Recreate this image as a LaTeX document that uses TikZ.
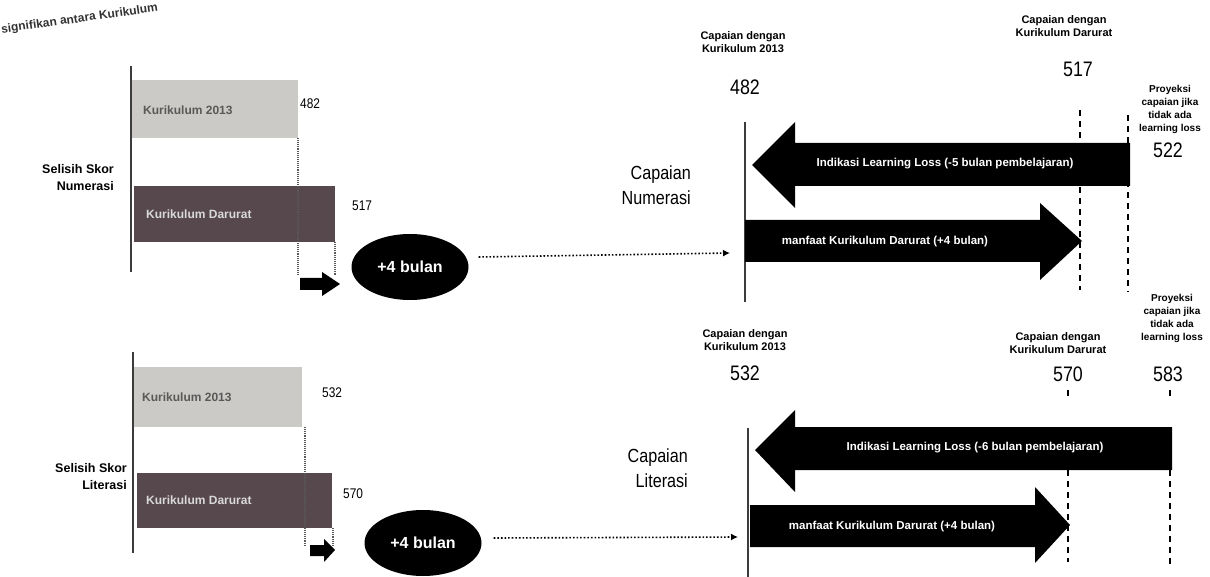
\documentclass[tikz,border=0pt]{standalone}
\usepackage{fontspec}
\setmainfont{Liberation Sans}
\newfontfamily\narrow[FakeStretch=0.85]{Liberation Sans}
\usetikzlibrary{shapes.geometric,arrows.meta}
\definecolor{lightbar}{RGB}{204,202,198}
\definecolor{darkbar}{RGB}{86,72,76}
\definecolor{axisgray}{RGB}{60,60,60}
\tikzset{
  smalllbl/.style={font=\bfseries\fontsize{11}{12.5}\selectfont, align=center, inner sep=0pt},
  prolbl/.style={font=\bfseries\fontsize{10}{13}\selectfont, align=center, inner sep=0pt},
  numlbl/.style={font=\narrow\fontsize{21}{22}\selectfont, inner sep=0pt},
  barnum/.style={font=\narrow\fontsize{14}{15}\selectfont, inner sep=0pt},
  sidelbl/.style={font=\bfseries\fontsize{12.5}{17}\selectfont, align=right, inner sep=0pt},
  caplbl/.style={font=\narrow\fontsize{19}{25}\selectfont, align=right, inner sep=0pt},
  barlbl/.style={font=\bfseries\fontsize{12}{13}\selectfont, inner sep=0pt},
  arrlbl/.style={font=\bfseries\fontsize{11.5}{13}\selectfont, text=white, inner sep=0pt},
  oval/.style={ellipse, fill=black, text=white, font=\bfseries\fontsize{16}{18}\selectfont, minimum width=117pt, minimum height=66pt, inner sep=0pt},
  dotconn/.style={dotted, line width=1.6pt, -{Latex[length=7pt,width=7pt]}},
  guide/.style={dash pattern=on 6pt off 5pt, line width=1.4pt},
  tick/.style={densely dotted, line width=1.1pt, black!65},
  axisline/.style={line width=1.5pt, axisgray}
}
\begin{document}
\begin{tikzpicture}[x=1pt,y=-1pt]
\useasboundingbox (0,0) rectangle (1210,577);
% heading fragment
\node[rotate=8, anchor=south west, font=\bfseries\fontsize{12}{13}\selectfont, text=black!80, inner sep=0pt] (head) at (2,36) {signifikan antara Kurikulum};

% ===== Left top panel =====
\fill[lightbar] (131,80) rectangle (298,138);
\fill[darkbar] (134,186) rectangle (335,242);
\draw[axisline] (131,66) -- (131,272);
\node[barlbl, text=black!65, anchor=west] (k13a) at (143,110) {Kurikulum 2013};
\node[barlbl, text=white!85!black, anchor=west] (kda) at (146,214) {Kurikulum Darurat};
\node[barnum, anchor=west] (n482a) at (300,104) {482};
\node[barnum, anchor=west] (n517a) at (352,206) {517};
\draw[tick] (298,138) -- (298,275);
\draw[tick] (335,242) -- (335,275);
\fill (300,278) rectangle (322,290) (322,272) -- (340,284) -- (322,296) -- cycle;
\node[sidelbl, anchor=east] (ssn) at (114,178) {Selisih Skor\\Numerasi};
\node[oval] (ovA) at (410,267) {+4 bulan};

% ===== Left bottom panel =====
\fill[lightbar] (133,367) rectangle (302,427);
\fill[darkbar] (137,473) rectangle (332,528);
\draw[axisline] (133,352) -- (133,553);
\node[barlbl, text=black!65, anchor=west] (k13b) at (142,397) {Kurikulum 2013};
\node[barlbl, text=white!85!black, anchor=west] (kdb) at (146,500) {Kurikulum Darurat};
\node[barnum, anchor=west] (n532a) at (322,393) {532};
\node[barnum, anchor=west] (n570a) at (343,494) {570};
\draw[tick] (305,427) -- (305,545);
\draw[tick] (333,528) -- (333,545);
\fill (310,545) rectangle (324,556) (324,539) -- (335,550) -- (324,562) -- cycle;
\node[sidelbl, anchor=east] (ssl) at (127,477) {Selisih Skor\\Literasi};
\node[oval] (ovB) at (423,543) {+4 bulan};

% ===== Right top panel (Numerasi) =====
\draw[guide] (1080,110) -- (1080,290);
\draw[guide] (1128,115) -- (1128,292);
\draw[axisline] (745,122) -- (745,302);
\fill (752,165) -- (795,122) -- (795,143) -- (1130,143) -- (1130,186) -- (795,186) -- (795,208) -- cycle;
\fill (745,220) -- (1040,220) -- (1040,203) -- (1082,241) -- (1040,280) -- (1040,262) -- (745,262) -- cycle;
\node[arrlbl] (llA) at (945,164) {Indikasi Learning Loss (-5 bulan pembelajaran)};
\node[arrlbl] (mfA) at (885,242) {manfaat Kurikulum Darurat (+4 bulan)};
\node[smalllbl] (c13A) at (743,42) {Capaian dengan\\Kurikulum 2013};
\node[numlbl] (v482) at (745,87) {482};
\node[smalllbl] (cdA) at (1064,26) {Capaian dengan\\Kurikulum Darurat};
\node[numlbl] (v517) at (1078,69) {517};
\node[prolbl] (prA) at (1170,109) {Proyeksi\\capaian jika\\tidak ada\\learning loss};
\node[numlbl] (v522) at (1168,150) {522};
\node[caplbl, anchor=east] (capN) at (691,185) {Capaian\\Numerasi};
\coordinate (tgtA) at (730,253);

% ===== Right bottom panel (Literasi) =====
\draw[guide] (1068,390) -- (1068,400);
\draw[guide] (1068,470) -- (1068,562);
\draw[guide] (1170,390) -- (1170,400);
\draw[guide] (1170,470) -- (1170,565);
\draw[axisline] (748,428) -- (748,577);
\fill (755,450) -- (795,410) -- (795,427) -- (1172,427) -- (1172,470) -- (795,470) -- (795,492) -- cycle;
\fill (750,505) -- (1035,505) -- (1035,487) -- (1070,525) -- (1035,563) -- (1035,547) -- (750,547) -- cycle;
\node[arrlbl] (llB) at (975,448) {Indikasi Learning Loss (-6 bulan pembelajaran)};
\node[arrlbl] (mfB) at (892,527) {manfaat Kurikulum Darurat (+4 bulan)};
\node[smalllbl] (c13B) at (745,340) {Capaian dengan\\Kurikulum 2013};
\node[numlbl] (v532) at (745,373) {532};
\node[smalllbl] (cdB) at (1058,343) {Capaian dengan\\Kurikulum Darurat};
\node[numlbl] (v570) at (1068,374) {570};
\node[prolbl] (prB) at (1172,318) {Proyeksi\\capaian jika\\tidak ada\\learning loss};
\node[numlbl] (v583) at (1168,374) {583};
\node[caplbl, anchor=east] (capL) at (688,468) {Capaian\\Literasi};
\coordinate (tgtB) at (738,537);

% ===== dotted connectors =====
\draw[dotconn] (ovA.east) ++(10,-10) coordinate (srcA) (srcA) -- (tgtA);
\draw[dotconn] (ovB.east) ++(12,-5) coordinate (srcB) (srcB) -- (tgtB);
\end{tikzpicture}
\end{document}
